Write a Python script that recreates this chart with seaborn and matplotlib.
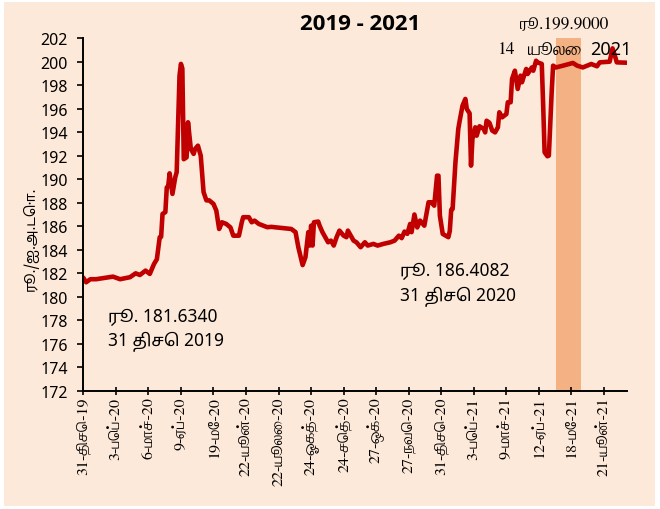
import matplotlib
matplotlib.use("Agg")
import matplotlib.pyplot as plt
import seaborn as sns
import pandas as pd
from matplotlib.patches import Rectangle

# Datos: índice de día hábil (eje de categorías) y tipo de cambio Rs./USD
dias = [0, 2, 5, 9, 21, 26, 33, 37, 40, 44, 47, 50, 52, 54, 55, 56, 58, 59, 60, 61,
        63, 65, 66, 68, 69, 70, 71, 73, 74, 76, 78, 79, 81, 83, 85, 87, 89, 92, 94, 96,
        98, 101, 104, 106, 110, 112, 113, 117, 119, 121, 124, 130, 133, 135, 147, 150, 152, 155, 157, 159,
        160, 161, 162, 163, 166, 167, 169, 171, 173, 175, 177, 179, 181, 184, 186, 187, 191, 193, 196, 199,
        201, 205, 208, 212, 217, 220, 223, 225, 227, 229, 231, 232, 234, 236, 238, 240, 241, 244, 246, 248,
        250, 251, 252, 254, 258, 259, 260, 261, 263, 265, 266, 268, 270, 271, 273, 274, 275, 277, 278, 280,
        283, 284, 285, 287, 289, 291, 293, 294, 296, 299, 300, 302, 303, 305, 307, 309, 310, 313, 314, 317,
        318, 320, 321, 324, 325, 326, 328, 329, 331, 332, 334, 339, 346, 349, 353, 359, 363, 365, 372, 374,
        376, 377, 384]
tasa = [181.63, 181.24, 181.5, 181.5, 181.72, 181.5, 181.67, 182.0, 181.86, 182.23,
        181.95, 182.8, 183.2, 185.07, 185.1, 187.05, 187.2, 189.3, 189.4, 190.5,
        188.75, 190.17, 190.6, 198.8, 199.8, 199.4, 191.7, 191.86, 194.84, 192.57,
        192.15, 192.57, 192.85, 192.0, 188.9, 188.2, 188.2, 187.9, 187.33, 185.77,
        186.34, 186.2, 185.9, 185.2, 185.2, 186.34, 186.77, 186.77, 186.34, 186.48,
        186.2, 185.92, 185.95, 185.92, 185.77, 185.5, 184.2, 182.7, 183.37, 185.5,
        184.36, 186.05, 184.36, 186.34, 186.4, 186.05, 185.5, 185.07, 184.64, 184.78,
        184.36, 185.07, 185.63, 185.2, 185.07, 185.63, 184.78, 184.64, 184.22, 184.64,
        184.36, 184.5, 184.36, 184.5, 184.64, 184.78, 185.2, 184.99, 185.55, 185.36,
        186.2, 185.5, 187.0, 185.9, 186.48, 186.2, 186.05, 188.04, 188.04, 187.75,
        190.3, 190.3, 186.9, 185.35, 185.07, 185.6, 187.4, 187.47, 191.44, 194.27,
        194.97, 196.25, 196.82, 195.97, 195.6, 191.15, 193.42, 194.41, 193.7, 194.5,
        194.27, 193.98, 194.97, 194.8, 194.13, 193.98, 194.41, 195.69, 195.26, 195.54,
        196.54, 196.54, 198.52, 199.22, 197.67, 198.8, 198.24, 199.37, 198.94, 199.5,
        199.22, 200.07, 199.93, 199.8, 196.25, 192.29, 191.95, 192.0, 197.39, 199.65,
        199.5, 199.65, 199.88, 199.65, 199.5, 199.79, 199.6, 199.93, 199.99, 201.12,
        200.36, 199.93, 199.9]
assert len(dias) == len(tasa)

etiquetas = ["31-திசெ-19", "3-பெப்-20", "6-மாச்-20", "9-ஏப்-20", "19-மே-20",
             "22-யூன்-20", "22-யூலை-20", "24-ஓகத்-20", "24-செத்-20", "27-ஒக்-20",
             "27-நவெ-20", "31-திசெ-20", "3-பெப்-21", "9-மாச்-21", "12-ஏப்-21",
             "18-மே-21", "21-யூன்-21"]
paso = 23
ultimo_dia = 384
franja = (334, 352)

df = pd.DataFrame({"dia": dias, "tasa": tasa})

sns.set_style("ticks")
plt.rcParams["font.family"] = ["Noto Sans", "Noto Sans Tamil"]
plt.rcParams["text.color"] = "black"
plt.rcParams["axes.labelcolor"] = "black"
plt.rcParams["xtick.color"] = "black"
plt.rcParams["ytick.color"] = "black"
serif = ["FreeSerif"]
fondo = "#FDE9D9"

fig = plt.figure(figsize=(6.6, 5.1), dpi=100, facecolor="white")
fig.patches.append(Rectangle((4 / 660, 3 / 510), 651 / 660, 504 / 510,
                             transform=fig.transFigure, facecolor=fondo,
                             edgecolor="none", zorder=-10))
ax = fig.add_axes([0.1262, 0.2314, 0.8233, 0.6921])
ax.set_facecolor(fondo)

ax.axvspan(franja[0], franja[1], color="#F4B183", lw=0, zorder=0)
sns.lineplot(data=df, x="dia", y="tasa", color="#C00000", linewidth=3.3, ax=ax)

ax.set_xlim(0, ultimo_dia)
ax.set_ylim(172, 202)
ax.set_yticks(range(172, 203, 2))
ax.set_xticks([i * paso for i in range(len(etiquetas))])
ax.set_xticklabels(etiquetas, rotation=90, family=serif, fontsize=11.5)
ax.tick_params(axis="x", direction="inout", length=6, width=1.2, pad=1)
ax.tick_params(axis="y", direction="out", length=4, width=1.2, labelsize=11.5, pad=7)
for s in ["top", "right"]:
    ax.spines[s].set_visible(False)
for s in ["left", "bottom"]:
    ax.spines[s].set_linewidth(1.4)
    ax.spines[s].set_color("black")

ax.set_xlabel("")
ax.set_ylabel("ரூ./ஐ.அ.டொ.", fontsize=10, family=["Noto Sans Tamil"])
ax.yaxis.set_label_coords(-0.082, 0.433)

fig.text(360 / 660, 1 - 25 / 510, "2019 - 2021", ha="center", va="center",
         fontsize=16, fontweight="bold", family=["Open Sans"], zorder=5)

# Anotaciones
ax.text(0.0455, 0.212, "ரூ. 181.6340", transform=ax.transAxes, fontsize=12.5, va="center")
ax.text(0.0455, 0.142, "31 திசெ 2019", transform=ax.transAxes, fontsize=12.5, va="center")
ax.text(0.583, 0.343, "ரூ. 186.4082", transform=ax.transAxes, fontsize=12.5, va="center")
ax.text(0.583, 0.269, "31 திசெ 2020", transform=ax.transAxes, fontsize=12.5, va="center")
ax.text(0.804, 1.04, "ரூ.199.9000", transform=ax.transAxes, fontsize=12.5, va="center",
        family=serif)
ax.text(0.761, 0.969, "14", transform=ax.transAxes, fontsize=12.5, va="center", family=serif)
ax.text(0.818, 0.969, "யூலை", transform=ax.transAxes, fontsize=13.5, va="center", family=serif)
ax.text(0.932, 0.969, "2021", transform=ax.transAxes, fontsize=13, va="center")

fig.savefig("out.png", dpi=100, facecolor=fig.get_facecolor())
